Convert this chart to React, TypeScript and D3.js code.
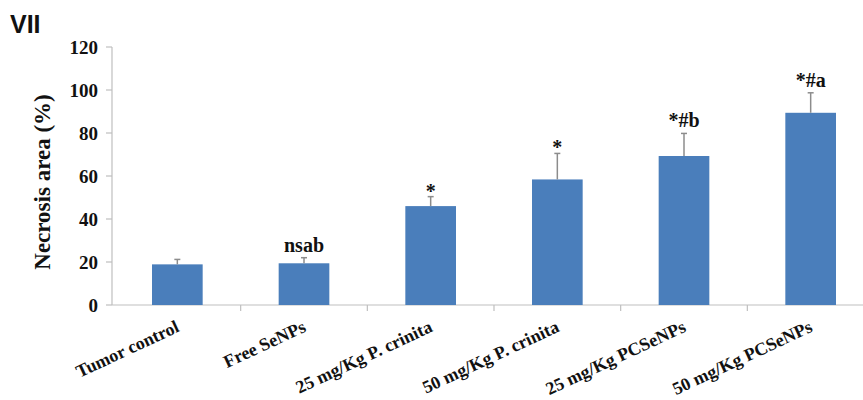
import React from "react";
import * as d3 from "d3";

const categories = [
  "Tumor control",
  "Free SeNPs",
  "25 mg/Kg P. crinita",
  "50 mg/Kg P. crinita",
  "25 mg/Kg PCSeNPs",
  "50 mg/Kg PCSeNPs",
];
const values = [18.9, 19.4, 46.0, 58.4, 69.3, 89.4];
const errors = [2.3, 2.6, 4.4, 12.1, 10.5, 9.3];
const annotations = ["", "nsab", "*", "*", "*#b", "*#a"];
const yTicks = [0, 20, 40, 60, 80, 100, 120];

export default function App() {
  const W = 863;
  const H = 400;
  const x0 = 114;
  const x1 = 874;
  const yTop = 47;
  const yBottom = 305;
  const x = d3.scaleBand<string>().domain(categories).range([x0, x1]).paddingInner(0.6).paddingOuter(0.3);
  const y = d3.scaleLinear().domain([0, 120]).range([yBottom, yTop]);
  const step = (x1 - x0) / categories.length;
  const serif = "'Liberation Serif', 'Times New Roman', serif";
  return (
    <svg width={W} height={H} style={{ position: "absolute", left: 0, top: 0, background: "#fff" }}>
      <text x={10} y={33} fontFamily="'Liberation Sans', Arial, sans-serif" fontWeight="bold" fontSize={25} fill="#111">VII</text>
      {/* y axis */}
      <line x1={x0 - 2} x2={x0 - 2} y1={yTop} y2={yBottom} stroke="#bfbfbf" strokeWidth={1.2} />
      {yTicks.map((t) => (
        <g key={t}>
          <line x1={x0 - 8} x2={x0 - 2} y1={y(t)} y2={y(t)} stroke="#bfbfbf" strokeWidth={1.2} />
          <text x={98} y={y(t)} dy="0.35em" textAnchor="end" fontFamily={serif} fontWeight="bold" fontSize={19} fill="#111">{t}</text>
        </g>
      ))}
      <text transform={`translate(50,${(yTop + yBottom) / 2 + 6}) rotate(-90)`} textAnchor="middle" fontFamily={serif} fontWeight="bold" fontSize={23} fill="#111">Necrosis area (%)</text>
      {/* x axis */}
      <line x1={x0 - 2} x2={W} y1={yBottom} y2={yBottom} stroke="#bfbfbf" strokeWidth={1.2} />
      {categories.map((c, i) => (
        <line key={"t" + i} x1={x0 + step * (i + 1)} x2={x0 + step * (i + 1)} y1={yBottom} y2={yBottom + 6} stroke="#bfbfbf" strokeWidth={1.2} />
      ))}
      {categories.map((c, i) => {
        const cx = (x(c) as number) + x.bandwidth() / 2;
        const errTop = y(values[i] + errors[i]);
        return (
          <g key={c}>
            <rect x={x(c)} y={y(values[i])} width={x.bandwidth()} height={yBottom - y(values[i])} fill="#4a7ebb" />
            <line x1={cx} x2={cx} y1={y(values[i])} y2={errTop} stroke="#8c8c8c" strokeWidth={1.5} />
            <line x1={cx - 3} x2={cx + 3} y1={errTop} y2={errTop} stroke="#8c8c8c" strokeWidth={1.5} />
            {annotations[i] && (
              <text x={cx} y={annotations[i] === "*" ? errTop + 1 : errTop - 6} textAnchor="middle" fontFamily={serif} fontWeight="bold" fontSize={20} fill="#111">{annotations[i]}</text>
            )}
            <text transform={`translate(${cx + 3},${yBottom + 26}) rotate(-25)`} textAnchor="end" fontFamily={serif} fontWeight="bold" fontSize={18} fill="#111">{c}</text>
          </g>
        );
      })}
    </svg>
  );
}
